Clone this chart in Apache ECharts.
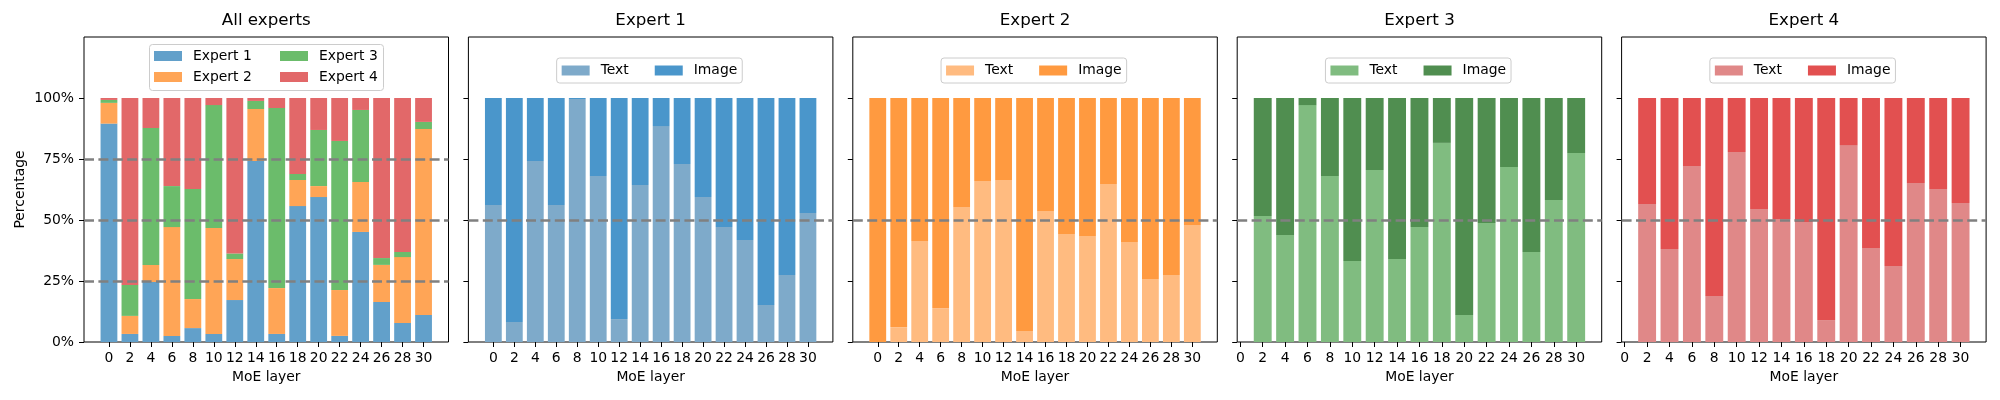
<!DOCTYPE html>
<html>
<head>
<meta charset="utf-8">
<script src="https://cdn.jsdelivr.net/npm/echarts@6/dist/echarts.min.js"></script>
<style>
html, body { margin: 0; padding: 0; background: #fff; }
#chart { width: 2000px; height: 400px; }
</style>
</head>
<body>
<div id="chart"></div>
<script>
// layers on the x axis
var layers = [0, 2, 4, 6, 8, 10, 12, 14, 16, 18, 20, 22, 24, 26, 28, 30];
var layersFrom2 = [2, 4, 6, 8, 10, 12, 14, 16, 18, 20, 22, 24, 26, 28, 30];
var yTicks = [0, 25, 50, 75, 100];

// All experts, share per layer (%)
var allExpert1 = [89.5, 3.3, 24.6, 2.5, 5.7, 3.3, 17.2, 74.2, 3.3, 55.7, 59.4, 2.5, 45.1, 16.4, 7.8, 11.1];
var allExpert2 = [8.5, 7.4, 7.0, 44.6, 11.9, 43.4, 16.8, 21.3, 18.8, 10.7, 4.5, 18.8, 20.5, 15.2, 27.0, 76.2];
var allExpert3 = [1.2, 12.7, 56.1, 16.8, 45.1, 50.4, 2.3, 3.3, 73.8, 2.5, 23.0, 61.1, 29.5, 2.8, 2.1, 2.9];
var allExpert4 = [0.8, 76.6, 12.3, 36.1, 37.3, 2.9, 63.7, 1.2, 4.1, 31.1, 13.1, 17.6, 4.9, 65.6, 63.1, 9.8];

// per expert, text vs image (%)
var e1Text  = [56.1, 8.2, 74.2, 56.1, 99.6, 68.0, 9.4, 64.3, 88.5, 73.0, 59.4, 47.1, 41.8, 15.2, 27.5, 52.9];
var e1Image = [43.9, 91.8, 25.8, 43.9, 0.4, 32.0, 90.6, 35.7, 11.5, 27.0, 40.6, 52.9, 58.2, 84.8, 72.5, 47.1];
var e2Text  = [0, 6.1, 41.4, 13.9, 55.3, 66.0, 66.4, 4.5, 53.7, 44.3, 43.4, 64.8, 41.0, 25.8, 27.5, 48.0];
var e2Image = [100, 93.9, 58.6, 86.1, 44.7, 34.0, 33.6, 95.5, 46.3, 55.7, 56.6, 35.2, 59.0, 74.2, 72.5, 52.0];
var e3Text  = [51.6, 43.9, 97.1, 68.0, 33.2, 70.5, 34.0, 47.1, 81.6, 11.1, 48.8, 71.7, 36.9, 58.2, 77.5];
var e3Image = [48.4, 56.1, 2.9, 32.0, 66.8, 29.5, 66.0, 52.9, 18.4, 88.9, 51.2, 28.3, 63.1, 41.8, 22.5];
var e4Text  = [56.6, 38.1, 72.1, 18.9, 77.9, 54.5, 50.4, 49.2, 9.0, 80.7, 38.5, 31.1, 65.2, 62.7, 57.0];
var e4Image = [43.4, 61.9, 27.9, 81.1, 22.1, 45.5, 49.6, 50.8, 91.0, 19.3, 61.5, 68.9, 34.8, 37.3, 43.0];

var FONT = 'DejaVu Sans';
var lefts = [84, 468.4, 852.8, 1237.2, 1621.6];
var W = 364.5;
var titles = ['All experts', 'Expert 1', 'Expert 2', 'Expert 3', 'Expert 4'];
var xRanges = [[-2.38, 32.38], [-2.38, 32.38], [-2.38, 32.38], [-0.28, 32.28], [-0.28, 32.28]];
var barWidths = [16.8, 16.8, 16.8, 17.9, 17.9];

var allColors = ['#62a0ca', '#ffa556', '#6bbc6b', '#e26869'];
var textColors = ['#7eaaca', '#ffbb80', '#80bc80', '#e08888'];
var imageColors = ['#4a96cb', '#ff9a40', '#508e50', '#e25050'];

// value first, layer second, so the stack runs along y
function pairs(xs, ys) {
    return xs.map(function (x, i) { return [ys[i], x]; });
}

var dashed = { color: '#808080', type: [10, 4.4], width: 2.6 };

var grids = [], xAxes = [], yAxes = [], titleList = [], legends = [], series = [];

for (var i = 0; i < 5; i++) {
    grids.push({
        left: lefts[i], top: 37, width: W, height: 305,
        show: true, borderColor: '#000', borderWidth: 1, backgroundColor: 'transparent',
        containLabel: false
    });
    xAxes.push({
        type: 'value', gridIndex: i,
        min: xRanges[i][0], max: xRanges[i][1],
        axisLine: { show: false, onZero: false },
        axisTick: { show: true, length: 5, customValues: layers, lineStyle: { color: '#000', width: 1 } },
        axisLabel: { customValues: layers, fontSize: 13.9, fontFamily: FONT, color: '#000', margin: 9 },
        splitLine: { show: false },
        name: 'MoE layer', nameLocation: 'middle', nameGap: 27,
        nameTextStyle: { fontSize: 13.9, fontFamily: FONT, color: '#000' }
    });
    yAxes.push({
        type: 'value', gridIndex: i, min: 0, max: 125,
        axisLine: { show: false, onZero: false },
        axisTick: { show: true, length: 5, customValues: yTicks, lineStyle: { color: '#000', width: 1 } },
        axisLabel: {
            show: i === 0, customValues: yTicks, formatter: '{value}%',
            fontSize: 13.9, fontFamily: FONT, color: '#000', margin: 10
        },
        splitLine: { show: false },
        name: i === 0 ? 'Percentage' : '', nameLocation: 'middle', nameGap: 57,
        nameTextStyle: { fontSize: 13.9, fontFamily: FONT, color: '#000' }
    });
    titleList.push({
        text: titles[i], left: lefts[i] + W / 2, top: 12, textAlign: 'center', padding: 0,
        textStyle: { fontSize: 16.7, fontWeight: 'normal', fontFamily: FONT, color: '#000' }
    });
}

// panel 1: all experts stacked
var allData = [allExpert1, allExpert2, allExpert3, allExpert4];
for (var k = 0; k < 4; k++) {
    var s = {
        name: 'Expert ' + (k + 1), type: 'bar', stack: 'all',
        xAxisIndex: 0, yAxisIndex: 0, barWidth: barWidths[0],
        encode: { x: 1, y: 0 },
        itemStyle: { color: allColors[k] },
        data: pairs(layers, allData[k])
    };
    if (k === 3) {
        s.markLine = {
            silent: true, symbol: 'none', label: { show: false }, lineStyle: dashed,
            data: [{ yAxis: 25 }, { yAxis: 50 }, { yAxis: 75 }]
        };
    }
    series.push(s);
}

// panels 2-5: text vs image per expert
var perExpert = [
    [layers, e1Text, e1Image],
    [layers, e2Text, e2Image],
    [layersFrom2, e3Text, e3Image],
    [layersFrom2, e4Text, e4Image]
];
for (var p = 0; p < 4; p++) {
    var gi = p + 1;
    var pre = 'Expert ' + (p + 1) + '|';
    series.push({
        name: pre + 'Text', type: 'bar', stack: 'p' + gi,
        xAxisIndex: gi, yAxisIndex: gi, barWidth: barWidths[gi],
        encode: { x: 1, y: 0 },
        itemStyle: { color: textColors[p] },
        data: pairs(perExpert[p][0], perExpert[p][1])
    });
    series.push({
        name: pre + 'Image', type: 'bar', stack: 'p' + gi,
        xAxisIndex: gi, yAxisIndex: gi, barWidth: barWidths[gi],
        encode: { x: 1, y: 0 },
        itemStyle: { color: imageColors[p] },
        data: pairs(perExpert[p][0], perExpert[p][2]),
        markLine: {
            silent: true, symbol: 'none', label: { show: false }, lineStyle: dashed,
            data: [{ yAxis: 50 }]
        }
    });
    legends.push({
        data: [pre + 'Text', pre + 'Image'],
        formatter: function (name) { return name.split('|')[1]; },
        orient: 'horizontal', left: lefts[gi] + W / 2 - 94, top: 58,
        padding: [5.5, 5, 5.5, 5], itemGap: 26, itemWidth: 28, itemHeight: 10, icon: 'rect',
        selectedMode: false,
        borderColor: '#cccccc', borderWidth: 1, borderRadius: 3, backgroundColor: 'rgba(255,255,255,0.8)',
        textStyle: { fontSize: 13.9, fontFamily: FONT, color: '#000', lineHeight: 14, padding: [0, 0, 0, 6] }
    });
}

legends.unshift({
    data: ['Expert 1', 'Expert 2', 'Expert 3', 'Expert 4'],
    orient: 'vertical', left: 154, top: 49, height: 40, padding: 0,
    itemGap: 7, itemWidth: 28, itemHeight: 10, icon: 'rect', selectedMode: false,
    textStyle: { fontSize: 13.9, fontFamily: FONT, color: '#000', lineHeight: 14, width: 80, padding: [0, 0, 0, 6] }
});

var chart = echarts.init(document.getElementById('chart'));
chart.setOption({
    animation: false,
    backgroundColor: '#fff',
    title: titleList,
    grid: grids,
    xAxis: xAxes,
    yAxis: yAxes,
    legend: legends,
    graphic: [{
        type: 'rect', left: 149, top: 44, z: 1,
        shape: { width: 234, height: 46, r: 3 },
        style: { fill: 'rgba(255,255,255,0.8)', stroke: '#cccccc', lineWidth: 1 }
    }],
    series: series
});
</script>
</body>
</html>
